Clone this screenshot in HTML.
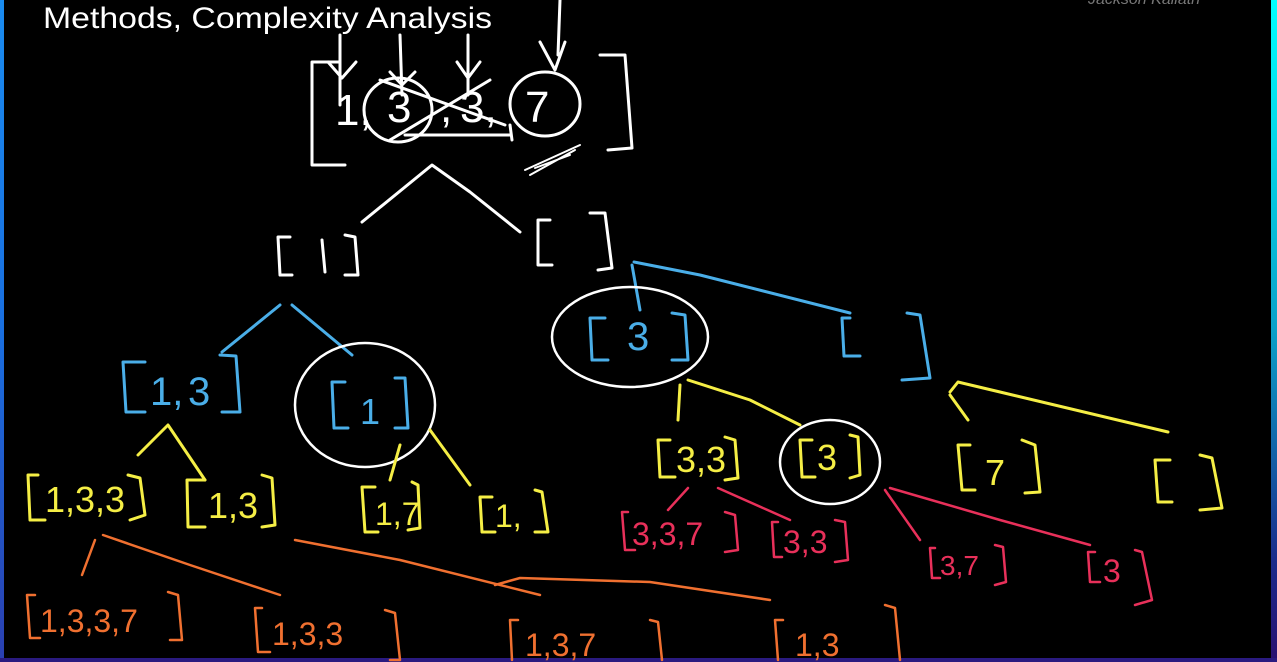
<!DOCTYPE html>
<html><head><meta charset="utf-8">
<style>
html,body{margin:0;padding:0;background:#000;}
body{width:1277px;height:662px;overflow:hidden;position:relative;}
.l{position:absolute;left:0;top:0;width:4px;height:662px;background:linear-gradient(#1a8cf0,#1a6fe0,#2a3fb0);}
.r{position:absolute;left:1271px;top:0;width:6px;height:662px;background:linear-gradient(#00ffff,#0aa0c8 50%,#1a2a8a 85%,#2a1070);}
.b{position:absolute;left:0;top:658px;width:1277px;height:4px;background:#2a1a80;}
svg{position:absolute;left:0;top:0;}
text{font-family:"Liberation Sans",sans-serif;}
</style></head><body>
<div class="l"></div><div class="r"></div><div class="b"></div>
<svg width="1277" height="662" viewBox="0 0 1277 662" fill="none" stroke-linecap="round" stroke-linejoin="round">
<text x="43" y="28" fill="#fff" font-size="30" stroke="none" textLength="449" lengthAdjust="spacingAndGlyphs">Methods, Complexity Analysis</text>
<text x="1088" y="4" fill="#777" font-size="16" font-style="italic" stroke="none">Jackson Kallath</text>

<!-- top array -->
<g stroke="#fff" stroke-width="3">
<path d="M340 62 L312 62 L312 165 L345 165"/>
<path d="M600 55 L625 55 L632 148 L608 150"/>
<path d="M340 35 L340 105 M328 62 L342 78 L356 62"/>
<path d="M400 35 L402 95 M390 72 L402 85 L415 72"/>
<path d="M468 35 L468 95 M457 62 L468 78 L480 62"/>
<path d="M560 0 L558 55 M540 42 L555 70 L565 42"/>
<ellipse cx="398" cy="110" rx="34" ry="32"/>
<ellipse cx="545" cy="104" rx="35" ry="32"/>
<path d="M405 135 L510 135 M510 125 L512 140"/>
<path d="M380 80 L505 125 M390 140 L490 80"/>
<path d="M525 170 L580 145 M530 175 L575 150 M535 168 L570 155" stroke-width="2"/>
</g>
<g fill="#fff" stroke="none" font-size="44">
<text x="335" y="125">1,</text><text x="387" y="122">3</text><text x="440" y="122">,</text><text x="460" y="122">3,</text><text x="525" y="122">7</text>
</g>

<!-- level 1 -->
<g stroke="#fff" stroke-width="3">
<path d="M362 222 L432 165 L470 192 L520 232"/>
<path d="M290 237 L278 237 L280 275 L292 275"/>
<path d="M345 235 L355 237 L358 275 L345 275"/>
<path d="M322 240 L325 272"/>
<path d="M550 220 L538 220 L538 265 L552 265"/>
<path d="M590 213 L605 213 L612 268 L598 270"/>
</g>

<!-- blue level -->
<g stroke="#4aaee8" stroke-width="3">
<path d="M222 352 L280 305 M292 305 L352 355"/>
<path d="M632 265 L640 310 M634 262 L700 275 L850 313"/>
<path d="M145 362 L123 362 L126 412 L145 412"/>
<path d="M220 355 L236 356 L240 412 L222 412"/>
<path d="M345 382 L332 382 L334 428 L348 428"/>
<path d="M395 378 L405 378 L408 428 L395 428"/>
<path d="M605 318 L590 318 L592 360 L608 360"/>
<path d="M672 313 L685 315 L688 360 L672 360"/>
<path d="M850 318 L842 318 L844 356 L860 356"/>
<path d="M907 313 L920 315 L930 378 L902 380"/>
</g>
<g fill="#4aaee8" stroke="none" font-size="40">
<text x="150" y="405">1,</text><text x="188" y="405">3</text>
<text x="360" y="424" font-size="36">1</text>
<text x="627" y="350">3</text>
</g>
<g stroke="#fff" stroke-width="2.5">
<ellipse cx="365" cy="405" rx="70" ry="62"/>
<ellipse cx="630" cy="337" rx="78" ry="50"/>
<ellipse cx="830" cy="462" rx="50" ry="42"/>
</g>

<!-- yellow level -->
<g stroke="#f5ee45" stroke-width="3">
<path d="M138 455 L168 425 L205 480"/>
<path d="M390 480 L400 445 M430 430 L470 485"/>
<path d="M680 385 L678 420 M688 380 L750 400 L800 425"/>
<path d="M950 392 L958 382 L1000 392 L1168 432 M950 395 L968 420"/>
<path d="M38 475 L28 475 L30 520 L45 520"/><path d="M128 475 L140 478 L145 515 L130 520"/>
<path d="M205 480 L187 480 L188 527 L205 527"/><path d="M262 475 L272 478 L275 525 L262 527"/>
<path d="M375 487 L362 487 L365 532 L378 532"/><path d="M412 482 L418 485 L420 528 L408 530"/>
<path d="M492 497 L480 497 L482 532 L495 532"/><path d="M535 490 L542 492 L548 532 L535 532"/>
<path d="M670 440 L658 440 L660 477 L675 477"/><path d="M725 437 L735 440 L738 478 L725 480"/>
<path d="M812 440 L800 440 L802 477 L815 477"/><path d="M850 435 L858 437 L860 475 L850 478"/>
<path d="M970 445 L958 445 L962 490 L975 490"/><path d="M1022 440 L1035 445 L1040 492 L1025 493"/>
<path d="M1170 460 L1155 460 L1158 502 L1172 502"/><path d="M1200 455 L1212 458 L1222 508 L1200 510"/>
</g>
<g fill="#f5ee45" stroke="none" font-size="36">
<text x="45" y="512">1,3,3</text>
<text x="208" y="518">1,3</text>
<text x="375" y="525" font-size="32">1,7</text>
<text x="495" y="527" font-size="32">1,</text>
<text x="676" y="472">3,3</text>
<text x="817" y="470">3</text>
<text x="985" y="485">7</text>
</g>

<!-- red level -->
<g stroke="#e8305a" stroke-width="2.5">
<path d="M688 488 L668 510 M718 488 L790 520"/>
<path d="M885 490 L920 540 M890 488 L1000 520 L1090 545"/>
<path d="M628 512 L622 512 L625 550 L635 550"/><path d="M725 512 L735 515 L738 550 L725 552"/>
<path d="M778 522 L772 522 L774 557 L782 557"/><path d="M835 520 L845 522 L848 560 L835 562"/>
<path d="M935 548 L930 548 L932 578 L940 578"/><path d="M995 545 L1003 547 L1006 582 L995 585"/>
<path d="M1095 552 L1088 552 L1090 582 L1100 582"/><path d="M1135 550 L1142 552 L1152 600 L1135 605"/>
</g>
<g fill="#e8305a" stroke="none" font-size="32">
<text x="632" y="545">3,3,7</text>
<text x="783" y="553">3,3</text>
<text x="940" y="575" font-size="28">3,7</text>
<text x="1103" y="582">3</text>
</g>

<!-- orange level -->
<g stroke="#f07030" stroke-width="2.5">
<path d="M95 540 L82 575 M103 535 L190 565 L280 595"/>
<path d="M295 540 L400 560 L540 595 M495 585 L520 578 L650 582 L770 600"/>
<path d="M35 595 L27 595 L30 638 L40 638"/><path d="M168 592 L178 595 L182 640 L170 640"/>
<path d="M262 608 L255 608 L258 652 L270 652"/><path d="M385 610 L395 613 L400 660 L390 660"/>
<path d="M518 620 L510 620 L512 660 M650 620 L658 622 L662 660"/>
<path d="M783 620 L775 620 L778 660 M885 605 L895 608 L900 660"/>
</g>
<g fill="#f07030" stroke="none" font-size="32">
<text x="40" y="632">1,3,3,7</text>
<text x="272" y="645">1,3,3</text>
<text x="525" y="656">1,3,7</text>
<text x="795" y="656">1,3</text>
</g>
</svg>
</body></html>
